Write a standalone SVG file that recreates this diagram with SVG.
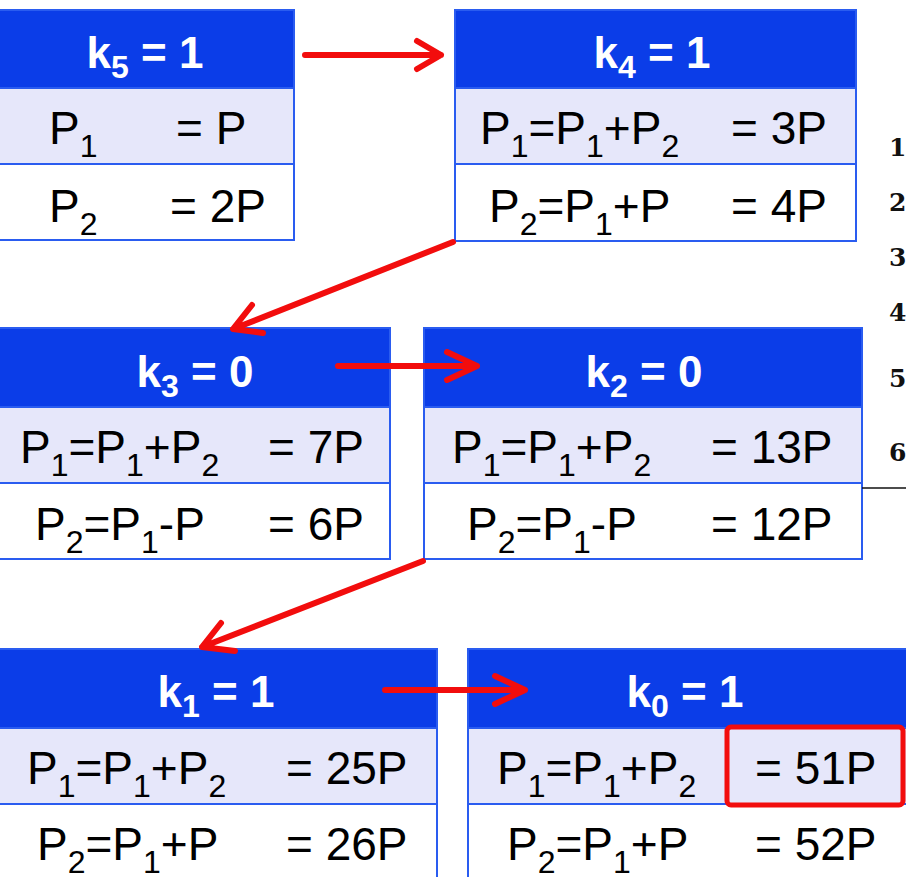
<svg xmlns="http://www.w3.org/2000/svg" width="906" height="877" viewBox="0 0 906 877">
<style>
.hd{fill:#0b3de8;stroke:#2a5cf0;stroke-width:2}
.r1{fill:#e6e7fa;stroke:#2a5cf0;stroke-width:2}
.r2{fill:#ffffff;stroke:#2a5cf0;stroke-width:2}
.h{font-family:"Liberation Sans",Arial,sans-serif;font-weight:bold;font-size:44px;fill:#ffffff;text-anchor:middle}
.t{font-family:"Liberation Sans",Arial,sans-serif;font-size:46px;fill:#000000}
.s{font-size:32px}
.hs{font-size:32px}
.ar{fill:none;stroke:#f20d0d;stroke-width:6;stroke-linecap:round;stroke-linejoin:round}
.num{font-family:"DejaVu Serif","Liberation Serif",serif;font-weight:bold;font-size:25px;fill:#111111}
</style>
<rect width="906" height="877" fill="#ffffff"/>

<g id="k5">
<rect class="hd" x="-2" y="10" width="296" height="78"/>
<rect class="r1" x="-2" y="88" width="296" height="76"/>
<rect class="r2" x="-2" y="164" width="296" height="76"/>
<text class="h" x="145" y="68">k<tspan class="hs" baseline-shift="-10">5</tspan> = 1</text>
<text class="t" x="49" y="144">P<tspan class="s" baseline-shift="-13">1</tspan></text>
<text class="t" x="176" y="144">=  P</text>
<text class="t" x="49" y="222">P<tspan class="s" baseline-shift="-13">2</tspan></text>
<text class="t" x="170" y="222">= 2P</text>
</g>

<g id="k4">
<rect class="hd" x="455" y="10" width="401" height="78"/>
<rect class="r1" x="455" y="88" width="401" height="76"/>
<rect class="r2" x="455" y="164" width="401" height="77"/>
<text class="h" x="652" y="68">k<tspan class="hs" baseline-shift="-10">4</tspan> = 1</text>
<text class="t" x="480" y="144">P<tspan class="s" baseline-shift="-13">1</tspan>=P<tspan class="s" baseline-shift="-13">1</tspan>+P<tspan class="s" baseline-shift="-13">2</tspan></text>
<text class="t" x="731" y="144">= 3P</text>
<text class="t" x="489" y="222">P<tspan class="s" baseline-shift="-13">2</tspan>=P<tspan class="s" baseline-shift="-13">1</tspan>+P</text>
<text class="t" x="731" y="222">= 4P</text>
</g>

<g id="k3">
<rect class="hd" x="-2" y="328" width="392" height="79"/>
<rect class="r1" x="-2" y="407" width="392" height="76"/>
<rect class="r2" x="-2" y="483" width="392" height="76"/>
<text class="h" x="195" y="387">k<tspan class="hs" baseline-shift="-10">3</tspan> = 0</text>
<text class="t" x="20" y="463">P<tspan class="s" baseline-shift="-13">1</tspan>=P<tspan class="s" baseline-shift="-13">1</tspan>+P<tspan class="s" baseline-shift="-13">2</tspan></text>
<text class="t" x="268" y="463">= 7P</text>
<text class="t" x="35" y="540">P<tspan class="s" baseline-shift="-13">2</tspan>=P<tspan class="s" baseline-shift="-13">1</tspan>-P</text>
<text class="t" x="268" y="540">= 6P</text>
</g>

<g id="k2">
<rect class="hd" x="424" y="328" width="438" height="79"/>
<rect class="r1" x="424" y="407" width="438" height="76"/>
<rect class="r2" x="424" y="483" width="438" height="76"/>
<text class="h" x="644" y="387">k<tspan class="hs" baseline-shift="-10">2</tspan> = 0</text>
<text class="t" x="452" y="463">P<tspan class="s" baseline-shift="-13">1</tspan>=P<tspan class="s" baseline-shift="-13">1</tspan>+P<tspan class="s" baseline-shift="-13">2</tspan></text>
<text class="t" x="711" y="463">= 13P</text>
<text class="t" x="467" y="540">P<tspan class="s" baseline-shift="-13">2</tspan>=P<tspan class="s" baseline-shift="-13">1</tspan>-P</text>
<text class="t" x="711" y="540">= 12P</text>
</g>

<g id="k1">
<rect class="hd" x="-2" y="649" width="439" height="79"/>
<rect class="r1" x="-2" y="728" width="439" height="76"/>
<rect class="r2" x="-2" y="804" width="439" height="78"/>
<text class="h" x="216" y="707">k<tspan class="hs" baseline-shift="-10">1</tspan> = 1</text>
<text class="t" x="27" y="784">P<tspan class="s" baseline-shift="-13">1</tspan>=P<tspan class="s" baseline-shift="-13">1</tspan>+P<tspan class="s" baseline-shift="-13">2</tspan></text>
<text class="t" x="286" y="784">= 25P</text>
<text class="t" x="37" y="860">P<tspan class="s" baseline-shift="-13">2</tspan>=P<tspan class="s" baseline-shift="-13">1</tspan>+P</text>
<text class="t" x="286" y="860">= 26P</text>
</g>

<g id="k0">
<rect class="hd" x="468" y="649" width="442" height="79"/>
<rect class="r1" x="468" y="728" width="442" height="76"/>
<rect class="r2" x="468" y="804" width="442" height="78"/>
<text class="h" x="685" y="707">k<tspan class="hs" baseline-shift="-10">0</tspan> = 1</text>
<text class="t" x="497" y="784">P<tspan class="s" baseline-shift="-13">1</tspan>=P<tspan class="s" baseline-shift="-13">1</tspan>+P<tspan class="s" baseline-shift="-13">2</tspan></text>
<text class="t" x="755" y="784">= 51P</text>
<text class="t" x="507" y="860">P<tspan class="s" baseline-shift="-13">2</tspan>=P<tspan class="s" baseline-shift="-13">1</tspan>+P</text>
<text class="t" x="755" y="860">= 52P</text>
<rect x="727" y="727" width="176" height="78" rx="4" fill="none" stroke="#f20d0d" stroke-width="5"/>
</g>

<g id="connectors">
<path class="ar" d="M305 55 H441 M417 41 L441 55 L417 69"/>
<path class="ar" d="M453 242 L233 329 M263 333 L233 329 L252 305"/>
<path class="ar" d="M338 366 H477 M447 352 L477 366 L447 380"/>
<path class="ar" d="M423 561 L202 647 M235 651 L202 647 L221 623"/>
<path class="ar" d="M385 690 H525 M495 676 L525 690 L495 704"/>
</g>

<g id="side">
<line x1="862" y1="488" x2="906" y2="488" stroke="#111" stroke-width="1.5"/>
<text class="num" x="889" y="156">1</text>
<text class="num" x="889" y="211">2</text>
<text class="num" x="889" y="266">3</text>
<text class="num" x="889" y="321">4</text>
<text class="num" x="889" y="387">5</text>
<text class="num" x="889" y="461">6</text>
</g>
</svg>
